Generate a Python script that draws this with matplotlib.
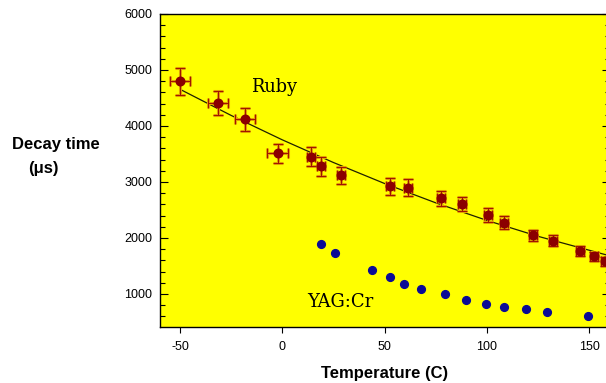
#!/usr/bin/env python3
import numpy as np
import matplotlib
matplotlib.use("Agg")
import matplotlib.pyplot as plt
from matplotlib.ticker import MultipleLocator

# Ruby decay time with error bars
ruby_t = [-50, -31.3, -18.1, -2.3, 13.9, 18.8, 28.7, 52.6, 61.6,
          77.6, 87.7, 100.4, 108.5, 122.7, 132.5, 145.5, 152.5, 157.7]
ruby_tau = [4800, 4410, 4120, 3510, 3450, 3280, 3120, 2920, 2900,
            2710, 2610, 2410, 2270, 2050, 1950, 1775, 1670, 1580]
ruby_terr = [5, 5, 5, 5, 2, 2, 2, 2, 2, 2, 2, 2, 2, 2, 2, 2, 2, 2]
ruby_tauerr = [240, 220, 205, 175, 170, 165, 155, 145, 145,
               135, 130, 120, 115, 100, 100, 90, 85, 80]

# fitted curve through the ruby points
fit_t = [-50, -25, 0, 25, 50, 75, 100, 125, 158]
fit_tau = [4656, 4189, 3753, 3348, 2973, 2628, 2314, 2030, 1702]

# YAG:Cr decay time
yag_t = [18.8, 25.9, 43.7, 52.6, 59.6, 67.6, 79.5, 89.6, 99.6,
         108.5, 119.4, 129.2, 149.6]
yag_tau = [1900, 1725, 1420, 1300, 1175, 1085, 995, 900, 815,
           775, 730, 675, 605]

plt.rcParams['font.family'] = ['Liberation Sans', 'DejaVu Sans']
plt.rcParams['axes.unicode_minus'] = False

fig = plt.figure(figsize=(6.06, 3.83), dpi=100)
ax = fig.add_axes([159.5 / 606, 1 - 326.7 / 383, 450 / 606, 312.7 / 383])
ax.set_facecolor('#ffff00')

# fit line
ax.plot(fit_t, fit_tau, color='#202000', lw=0.9, zorder=2)

# error bars: orange base with a thin dark red core
ax.errorbar(ruby_t, ruby_tau, xerr=ruby_terr, yerr=ruby_tauerr, fmt='none',
            ecolor='#e0a000', elinewidth=2.2, capsize=3.6, capthick=2.2,
            zorder=3)
ax.errorbar(ruby_t, ruby_tau, xerr=ruby_terr, yerr=ruby_tauerr, fmt='none',
            ecolor='#a01000', elinewidth=0.7, capsize=3.6, capthick=0.7,
            zorder=4)
ax.plot(ruby_t, ruby_tau, 'o', color='#8b0000', ms=6.2, mec='#8b0000',
        zorder=5)

ax.plot(yag_t, yag_tau, 'o', color='#0a0a96', ms=5.6, mec='#0a0a96',
        zorder=5)

ax.text(-15.3, 4607, 'Ruby', family='DejaVu Serif', fontsize=12.8,
        ha='left', va='baseline')
ax.text(12.2, 774, 'YAG:Cr', family='DejaVu Serif', fontsize=13,
        ha='left', va='baseline')

ax.set_xlim(-60, 160)
ax.set_ylim(415, 6000)
ax.set_xticks([-50, 0, 50, 100, 150])
ax.set_yticks([1000, 2000, 3000, 4000, 5000, 6000])
ax.yaxis.set_minor_locator(MultipleLocator(200))

ax.tick_params(axis='y', which='both', direction='in', left=True,
               right=True, labelsize=9, pad=5)
ax.tick_params(axis='y', which='major', length=5.5, width=0.8)
ax.tick_params(axis='y', which='minor', length=3.3, width=0.8)
ax.tick_params(axis='x', which='major', direction='out', length=4,
               width=0.8, labelsize=9, pad=6)

for s in ax.spines.values():
    s.set_linewidth(1.0)
    s.set_color('black')

ax.set_xlabel('Temperature (C)', fontsize=12, fontweight='bold',
              labelpad=10)
fig.text(56 / 606, 1 - 145 / 383, 'Decay time', fontsize=12,
         fontweight='bold', ha='center', va='center')
fig.text(43 / 606, 1 - 168 / 383, '(\u03bcs)', fontsize=12,
         fontweight='bold', ha='center', va='center')

fig.savefig('out.png', dpi=100)
